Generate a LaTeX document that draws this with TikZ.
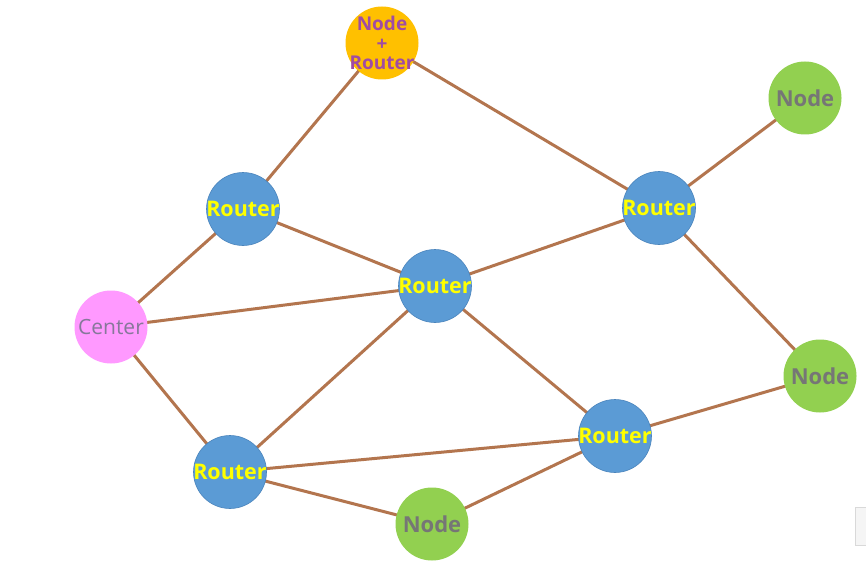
\documentclass[tikz,border=0pt]{standalone}
\usepackage{fontspec}
\setmainfont{Open Sans}
\usetikzlibrary{backgrounds}
\definecolor{edgec}{HTML}{B3754E}
\definecolor{routerc}{HTML}{5B9BD5}
\definecolor{routerb}{HTML}{4A84BC}
\definecolor{greenc}{HTML}{92D050}
\definecolor{orangec}{HTML}{FFC000}
\definecolor{pinkc}{HTML}{FF99FF}
\definecolor{ytext}{HTML}{FFFF00}
\definecolor{gtext}{HTML}{767676}
\definecolor{ctext}{HTML}{86789A}
\definecolor{ptext}{HTML}{A04CA4}
\tikzset{
  circ/.style={circle, inner sep=0pt, minimum size=73pt},
  routernode/.style={circ, fill=routerc, draw=routerb, line width=0.6pt,
    label={[text=ytext, font=\fontsize{21.5}{21.5}\selectfont\bfseries]center:#1}},
  leafnode/.style={circ, fill=greenc,
    label={[text=gtext, font=\fontsize{22}{22}\selectfont\bfseries]center:#1}},
  centernode/.style={circ, fill=pinkc,
    label={[text=ctext, font=\fontsize{21}{21}\selectfont]center:#1}},
  nrnode/.style={circ, fill=orangec,
    label={[text=ptext, align=center, font=\fontsize{19}{19.5}\selectfont\bfseries]center:#1}},
  link/.style={draw=edgec, line width=3pt}
}
\begin{document}
\begin{tikzpicture}[x=1pt,y=-1pt]
\useasboundingbox (0,0) rectangle (866,564);
% nodes
\node[nrnode={Node\\+\\Router}] (nr) at (382,43) {};
\node[leafnode=Node] (ntr) at (805,98) {};
\node[routernode=Router] (ra) at (243,209) {};
\node[routernode=Router] (rb) at (659,208) {};
\node[routernode=Router] (rc) at (435,286) {};
\node[centernode=Center] (ce) at (111,327) {};
\node[leafnode=Node] (nr2) at (820,376) {};
\node[routernode=Router] (rd) at (615,436) {};
\node[routernode=Router] (re) at (230,472) {};
\node[leafnode=Node] (nb) at (432,524) {};
% edges behind
\begin{scope}[on background layer]
\fill[white] (0,0) rectangle (866,564);
\draw[link] (nr.center) -- (ra.center);
\draw[link] (nr.center) -- (rb.center);
\draw[link] (rb.center) -- (ntr.center);
\draw[link] (rb.center) -- (nr2.center);
\draw[link] (ra.center) -- (rc.center);
\draw[link] (ra.center) -- (ce.center);
\draw[link] (ce.center) -- (rc.center);
\draw[link] (rc.center) -- (rb.center);
\draw[link] (ce.center) -- (re.center);
\draw[link] (rc.center) -- (re.center);
\draw[link] (rc.center) -- (rd.center);
\draw[link] (re.center) -- (rd.center);
\draw[link] (rd.center) -- (nr2.center);
\draw[link] (re.center) -- (nb.center);
\draw[link] (nb.center) -- (rd.center);
\end{scope}
% cut-off box at right edge
\draw[fill=black!4, draw=black!15, line width=0.6pt] (855.5,507) rectangle (870,545);
\end{tikzpicture}
\end{document}
